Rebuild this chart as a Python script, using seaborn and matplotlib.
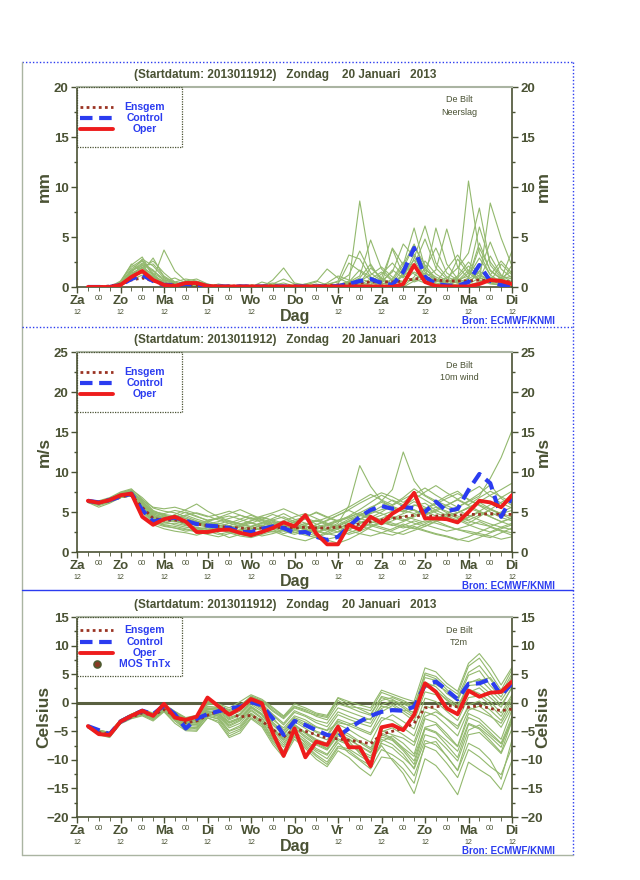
import pandas as pd
import seaborn as sns
import matplotlib.pyplot as plt
from matplotlib.lines import Line2D
from matplotlib.patches import Rectangle
from matplotlib.ticker import MultipleLocator
import matplotlib.transforms as mtransforms

# forecast hours (+6h .. +240h after 2013011912)
hours = list(range(6, 241, 6))
day_names = ['Za', 'Zo', 'Ma', 'Di', 'Wo', 'Do', 'Vr', 'Za', 'Zo', 'Ma', 'Di']
day_hours = list(range(0, 241, 24))
half_hours = list(range(12, 241, 24))

# ---------------- neerslag (mm) ----------------
rain_oper = [0, 0, 0, 0.2, 1.0, 1.6, 0.7, 0.2, 0.1, 0.4, 0.4, 0.1, 0.05, 0.05, 0.05, 0.05,
             0.05, 0.05, 0.05, 0.05, 0.05, 0.05, 0.05, 0.05, 0.05, 0.05, 0.05, 0.05, 0, 0.3,
             2.2, 0.5, 0.1, 0.05, 0.05, 0.05, 0.3, 0.7, 0.6, 0.3]
rain_control = [0, 0, 0, 0.2, 0.8, 1.2, 0.6, 0.2, 0.2, 0.3, 0.2, 0.1, 0.05, 0.05, 0.05, 0.05,
                0.05, 0.05, 0.05, 0.05, 0.05, 0.05, 0.05, 0.1, 0.3, 0.6, 0.8, 0.4, 0.2, 1.5,
                3.9, 1.0, 0.3, 0.15, 0.1, 0.5, 2.2, 0.6, 0.2, 0.2]
rain_ensgem = [0, 0, 0.1, 0.3, 0.7, 0.9, 0.6, 0.3, 0.2, 0.25, 0.2, 0.15, 0.1, 0.1, 0.1, 0.1,
               0.1, 0.1, 0.1, 0.1, 0.1, 0.1, 0.15, 0.2, 0.3, 0.4, 0.5, 0.5, 0.5, 0.6,
               0.8, 0.9, 0.7, 0.6, 0.6, 0.6, 0.7, 0.6, 0.6, 0.5]
rain_members = [
    [0, 0, 0, 0.3, 1.8, 2.6, 1.2, 0.4, 0.2, 0.1, 0.3, 0.2, 0, 0, 0.1, 0, 0, 0.2, 0.4, 0.1, 0, 0, 0.3, 0.5, 1.2, 3.6, 1.4, 0.6, 0.3, 1.9, 4.1, 2.2, 0.8, 0.4, 1.1, 2.5, 1.3, 0.6, 0.9, 0.4],
    [0, 0, 0, 0.5, 2.3, 1.5, 2.9, 1.0, 0.3, 0.5, 0.2, 0, 0, 0.2, 0, 0, 0.1, 0, 0, 0, 0.3, 0.6, 0.2, 0, 0.4, 8.6, 2.1, 0.8, 0.4, 0.6, 1.5, 0.9, 0.5, 1.8, 3.2, 1.6, 0.7, 0.3, 0.2, 0.5],
    [0, 0, 0, 0.2, 1.2, 2.0, 0.8, 3.7, 1.6, 0.6, 0.4, 0.1, 0, 0, 0, 0.2, 0.1, 0, 0, 0.1, 0.3, 0.1, 0, 0.2, 0.5, 1.1, 4.7, 1.8, 0.7, 0.3, 2.9, 6.1, 2.4, 1.0, 0.6, 10.6, 3.4, 1.2, 2.6, 1.4],
    [0, 0, 0, 0.4, 1.5, 2.8, 2.1, 0.9, 0.5, 0.8, 0.6, 0.3, 0.1, 0, 0, 0, 0.5, 0.2, 0, 0, 0, 0, 0, 0.1, 0.3, 0.2, 0.8, 1.5, 0.6, 2.2, 5.9, 1.9, 0.7, 0.3, 0.5, 1.4, 0.6, 8.4, 4.9, 2.1],
    [0, 0, 0, 0.1, 0.9, 1.7, 1.0, 0.5, 0.2, 0.1, 0, 0, 0.3, 0.1, 0, 0, 0, 0.7, 1.9, 0.4, 0.2, 0, 0, 0, 0.1, 0.3, 0.1, 0, 0.2, 1.3, 2.7, 0.9, 5.9, 2.3, 0.8, 0.4, 1.6, 0.7, 0.3, 0.2],
    [0, 0, 0, 0.6, 2.2, 3.0, 1.1, 0.2, 0.1, 0.6, 0.8, 0.3, 0, 0, 0, 0, 0.2, 0.4, 0.1, 0, 0, 0, 0.1, 0.2, 0.6, 0.4, 0.2, 0.9, 3.8, 1.2, 0.5, 0.9, 1.7, 5.8, 2.0, 0.9, 4.4, 1.6, 0.8, 3.6],
    [0, 0, 0, 0.3, 1.3, 1.9, 2.6, 1.4, 0.5, 0.2, 0.1, 0, 0, 0, 0, 0.1, 0, 0, 0, 0, 0, 0, 0.2, 0.6, 3.2, 2.8, 1.0, 0.4, 0.1, 0, 0.6, 1.4, 0.8, 0.3, 0.2, 0.6, 1.2, 0.5, 0.3, 0.1],
    [0, 0, 0, 0.2, 1.0, 1.4, 0.8, 0.3, 0.1, 0, 0.2, 0.1, 0, 0, 0, 0, 0, 0, 0, 0.1, 0.2, 0.5, 1.8, 0.9, 0.4, 0.9, 2.3, 0.6, 1.5, 4.3, 3.0, 1.1, 0.6, 0.9, 1.9, 3.4, 7.9, 2.2, 0.9, 1.6],
    [0, 0, 0, 0.4, 1.6, 2.4, 1.7, 0.6, 0.3, 0.1, 0, 0.1, 0, 0, 0.1, 0, 0, 0.1, 0, 0, 0, 0.3, 0.1, 0, 0, 0, 0.3, 0.8, 0.4, 0.1, 1.0, 2.6, 1.3, 0.6, 0.4, 0.2, 0.5, 1.0, 0.6, 0.3],
    [0, 0, 0, 0.2, 1.1, 2.2, 1.0, 0.6, 0.9, 0.4, 0.1, 0, 0, 0, 0, 0, 0, 0, 0, 0, 0, 0.1, 0, 0.3, 2.4, 1.6, 0.7, 0.3, 3.9, 2.2, 4.3, 1.7, 1.0, 0.5, 2.8, 1.3, 6.0, 2.5, 1.1, 0.8],
    [0, 0, 0, 0.3, 1.4, 1.9, 1.3, 0.4, 0.2, 0.3, 0.4, 0.1, 0, 0.1, 0, 0, 0.1, 0.3, 0.8, 0.3, 0, 0, 0, 0, 0.2, 0.6, 1.2, 2.0, 1.0, 0.5, 0.8, 0.4, 0.2, 0.7, 0.4, 0.3, 0.9, 0.5, 2.3, 1.2],
    [0, 0, 0, 0.5, 2.0, 2.7, 1.4, 0.7, 0.4, 0.2, 0, 0, 0, 0, 0, 0, 0, 0, 0, 0, 0, 0, 0, 0.1, 0.3, 0.1, 0.5, 0.2, 0.8, 2.5, 1.3, 0.6, 0.3, 0.1, 0.6, 1.7, 0.8, 3.1, 1.2, 0.5],
    [0, 0, 0, 0.1, 0.7, 1.2, 0.6, 0.2, 0.1, 0, 0, 0, 0, 0, 0, 0, 0, 0, 0.1, 0.2, 0.1, 0, 0, 0, 0.1, 0.4, 1.9, 0.9, 0.3, 1.1, 2.0, 0.8, 0.4, 0.2, 0.9, 2.1, 1.0, 0.4, 0.2, 0.6],
    [0, 0, 0, 0.4, 1.7, 2.1, 2.3, 1.1, 0.4, 0.2, 0.1, 0, 0, 0, 0.2, 0.1, 0, 0, 0, 0, 0, 0, 0.4, 1.1, 0.7, 0.3, 0.1, 0.4, 1.7, 0.9, 3.3, 1.5, 0.6, 0.3, 0.2, 0.8, 1.5, 4.5, 1.8, 0.9],
    [0, 0, 0, 0.2, 1.2, 1.6, 0.9, 0.4, 0.2, 0.1, 0, 0, 0, 0, 0, 0, 0, 0, 0, 0, 0, 0, 0, 0, 0.2, 0.8, 0.5, 1.3, 2.4, 1.1, 0.6, 1.8, 3.9, 1.4, 0.7, 1.1, 2.9, 1.2, 0.5, 2.2],
    [0, 0, 0, 0.3, 1.5, 2.3, 1.6, 0.8, 0.3, 0.2, 0.1, 0, 0, 0, 0, 0, 0.1, 0.2, 0.1, 0, 0, 0.2, 0.1, 0, 0.5, 1.7, 1.0, 0.4, 0.2, 1.4, 2.2, 4.8, 1.9, 0.8, 0.4, 0.9, 3.9, 1.7, 0.8, 1.1],
]

# ---------------- 10m wind (m/s) ----------------
wind_oper = [6.4, 6.15, 6.5, 7.1, 7.3, 4.4, 3.4, 4.1, 4.4, 3.8, 2.5, 2.5, 2.75, 2.8, 2.4, 2.1,
             2.5, 3.0, 3.7, 3.2, 4.6, 2.3, 0.96, 0.96, 3.4, 2.8, 4.4, 3.6, 4.8, 5.6,
             7.4, 4.2, 4.2, 4.1, 3.7, 5.0, 6.4, 6.2, 5.6, 7.1]
wind_control = [6.4, 6.2, 6.5, 6.9, 7.3, 5.25, 3.8, 4.1, 4.3, 3.9, 3.5, 3.3, 3.2, 3.0, 2.5, 2.5,
                2.9, 3.2, 3.0, 2.4, 2.5, 1.9, 1.5, 1.9, 3.2, 4.4, 5.25, 5.75, 5.4, 5.6,
                5.5, 5.0, 6.3, 5.1, 5.4, 7.75, 9.75, 8.6, 4.4, 6.9]
wind_ensgem = [6.4, 6.2, 6.4, 6.9, 7.1, 5.6, 4.2, 4.0, 4.0, 3.8, 3.5, 3.3, 3.2, 3.1, 3.0, 2.9,
               3.0, 3.0, 3.1, 3.0, 3.1, 3.0, 3.0, 3.1, 3.3, 3.5, 3.8, 4.0, 4.2, 4.4,
               4.6, 4.5, 4.5, 4.6, 4.6, 4.7, 4.7, 4.8, 4.7, 4.7]
wind_members = [
    [6.3, 6.0, 6.4, 7.0, 7.4, 5.9, 4.5, 4.3, 4.6, 4.2, 3.6, 3.4, 3.6, 3.3, 3.0, 2.7, 3.1, 3.4, 3.6, 3.0, 3.2, 2.6, 2.2, 2.5, 3.4, 4.0, 4.8, 5.3, 5.5, 5.0, 5.8, 6.1, 5.2, 4.6, 4.9, 5.6, 6.2, 5.4, 4.8, 5.2],
    [6.5, 6.3, 6.7, 7.3, 7.6, 6.4, 5.0, 4.8, 5.2, 4.9, 4.4, 4.0, 4.2, 3.8, 3.5, 3.9, 4.3, 4.0, 3.6, 3.2, 2.8, 2.4, 2.9, 3.6, 5.8, 10.8, 8.2, 6.4, 5.6, 5.0, 5.9, 5.4, 6.2, 7.0, 7.6, 6.5, 5.8, 5.0, 4.3, 3.9],
    [6.2, 5.6, 6.1, 6.8, 7.0, 5.2, 3.6, 3.2, 3.0, 2.6, 2.8, 3.1, 2.4, 1.8, 2.2, 2.9, 3.4, 2.8, 2.3, 2.7, 3.3, 3.9, 3.4, 2.8, 2.2, 2.6, 3.2, 3.8, 4.4, 4.1, 3.6, 3.2, 3.9, 4.5, 4.0, 3.4, 2.9, 2.5, 3.1, 3.6],
    [6.4, 6.2, 6.6, 7.4, 7.8, 6.8, 5.5, 5.1, 4.9, 4.4, 3.9, 3.5, 3.2, 3.6, 4.1, 4.6, 4.0, 3.5, 3.9, 4.4, 4.8, 4.2, 3.6, 3.2, 3.8, 4.6, 5.4, 6.4, 7.8, 12.5, 8.9, 7.1, 6.4, 5.8, 6.6, 7.4, 8.2, 7.0, 6.1, 5.5],
    [6.3, 6.1, 6.5, 7.1, 7.3, 5.6, 4.0, 3.7, 3.9, 3.5, 3.0, 2.6, 2.9, 2.5, 2.2, 1.9, 2.4, 2.8, 3.1, 3.5, 2.9, 2.1, 1.5, 1.1, 1.6, 2.3, 3.1, 3.7, 4.2, 4.8, 5.3, 4.6, 3.9, 3.3, 2.8, 2.4, 2.1, 1.8, 2.4, 3.0],
    [6.4, 6.3, 6.6, 7.2, 7.5, 6.1, 4.7, 4.4, 4.3, 4.0, 3.7, 3.3, 3.0, 2.8, 3.2, 3.6, 4.1, 4.7, 4.2, 3.6, 3.0, 3.4, 3.9, 4.6, 5.3, 6.1, 6.8, 7.4, 6.9, 6.2, 7.2, 8.0, 7.1, 6.3, 5.6, 6.4, 7.3, 8.4, 6.7, 5.8],
    [6.2, 5.9, 6.3, 6.9, 7.2, 5.8, 4.3, 3.8, 3.4, 3.1, 2.9, 2.6, 2.2, 2.5, 2.8, 2.4, 2.0, 2.3, 2.7, 3.1, 3.6, 3.2, 2.8, 3.3, 3.9, 4.5, 5.2, 4.8, 4.3, 3.9, 4.6, 5.1, 4.5, 4.0, 3.6, 4.3, 5.0, 4.4, 3.8, 4.2],
    [6.5, 6.4, 6.8, 7.5, 7.9, 6.6, 5.2, 4.6, 4.0, 3.6, 3.3, 3.8, 4.2, 4.5, 4.1, 3.6, 3.3, 3.0, 2.6, 2.2, 2.6, 3.1, 3.5, 4.0, 4.4, 4.9, 4.5, 4.0, 3.6, 3.2, 2.9, 3.5, 4.1, 4.8, 5.6, 6.3, 7.0, 9.2, 11.8, 15.2],
    [6.3, 6.2, 6.5, 7.0, 7.3, 5.4, 3.9, 3.5, 3.6, 3.3, 3.1, 2.9, 2.7, 2.9, 3.2, 3.0, 2.7, 2.5, 2.8, 3.2, 2.8, 2.5, 2.9, 3.4, 4.1, 4.7, 4.3, 3.8, 3.4, 3.0, 3.4, 3.9, 3.6, 3.2, 2.8, 2.6, 2.3, 2.0, 1.6, 1.9],
    [6.4, 6.1, 6.6, 7.2, 7.4, 6.0, 4.6, 4.1, 3.8, 3.6, 3.4, 3.1, 3.5, 3.9, 3.5, 3.1, 3.6, 4.0, 4.4, 3.8, 3.3, 2.7, 2.3, 2.0, 2.7, 3.5, 4.3, 5.0, 5.8, 6.6, 7.3, 6.5, 5.7, 4.9, 4.2, 3.6, 4.4, 5.3, 6.2, 7.0],
    [6.3, 6.2, 6.4, 6.9, 7.1, 5.7, 4.4, 4.0, 4.2, 4.6, 4.1, 3.7, 3.3, 3.0, 2.6, 2.9, 3.3, 3.8, 3.4, 2.9, 3.4, 4.0, 3.5, 3.0, 3.3, 3.7, 4.1, 4.6, 5.1, 5.6, 5.2, 4.7, 5.3, 5.9, 6.5, 5.8, 5.1, 4.5, 5.0, 5.6],
    [6.2, 6.0, 6.3, 7.0, 7.3, 5.5, 4.1, 3.9, 4.4, 5.0, 4.5, 3.9, 3.4, 3.1, 3.4, 3.7, 3.2, 2.9, 3.3, 3.7, 4.1, 3.5, 2.9, 2.5, 2.9, 3.3, 2.8, 2.4, 2.1, 2.6, 3.2, 2.7, 2.3, 2.0, 1.6, 1.3, 1.8, 2.4, 2.9, 3.4],
    [6.4, 6.3, 6.7, 7.3, 7.5, 6.2, 4.9, 4.5, 4.1, 3.8, 3.5, 3.2, 2.9, 3.3, 3.8, 4.3, 3.9, 3.4, 3.0, 2.7, 2.4, 2.8, 3.3, 3.8, 4.5, 5.3, 6.2, 7.1, 6.4, 5.7, 6.6, 7.5, 8.3, 7.4, 6.6, 5.9, 6.8, 7.6, 6.9, 6.2],
    [6.3, 6.1, 6.4, 7.1, 7.4, 6.1, 4.8, 4.2, 3.9, 3.4, 3.0, 2.8, 3.1, 2.7, 2.3, 2.6, 3.0, 3.3, 2.9, 2.5, 2.1, 1.8, 2.3, 2.9, 3.6, 4.2, 3.8, 3.4, 3.9, 4.5, 4.1, 3.7, 4.2, 4.7, 4.3, 3.9, 3.5, 3.2, 3.7, 4.3],
    [6.5, 6.2, 6.6, 7.2, 7.6, 6.3, 5.1, 4.7, 4.5, 4.2, 3.8, 3.5, 3.8, 4.2, 4.6, 4.2, 3.7, 3.3, 3.6, 4.0, 4.4, 4.9, 4.3, 3.8, 4.3, 4.9, 5.6, 6.2, 5.7, 5.2, 4.8, 5.4, 6.0, 6.7, 7.3, 6.6, 5.9, 5.3, 4.8, 4.4],
    [6.3, 6.0, 6.2, 6.8, 7.1, 5.3, 3.8, 3.4, 3.2, 2.9, 2.6, 2.3, 2.6, 2.9, 2.5, 2.2, 2.5, 2.9, 3.3, 2.8, 2.4, 2.0, 1.6, 1.9, 2.4, 2.9, 3.5, 3.1, 2.7, 3.3, 3.9, 3.4, 3.0, 2.6, 2.9, 3.3, 3.8, 3.2, 2.7, 2.4],
    [6.4, 6.2, 6.5, 7.1, 7.5, 6.5, 5.6, 5.4, 5.6, 5.2, 4.8, 4.4, 4.7, 5.1, 4.6, 4.1, 4.5, 4.9, 5.4, 4.8, 4.2, 3.8, 4.3, 4.9, 5.6, 6.4, 7.2, 6.5, 5.9, 6.8, 7.9, 7.0, 6.2, 5.5, 4.9, 5.5, 6.3, 7.1, 7.8, 8.6],
    [6.3, 6.1, 6.3, 6.9, 7.2, 5.0, 3.4, 2.9, 2.6, 2.4, 2.1, 2.5, 2.9, 2.4, 2.0, 1.8, 2.2, 2.6, 2.1, 1.7, 1.4, 1.9, 2.5, 3.1, 2.7, 2.3, 2.0, 2.4, 2.9, 3.5, 3.0, 2.6, 2.2, 1.9, 1.5, 1.9, 2.5, 3.1, 2.6, 2.1],
    [6.4, 6.2, 6.6, 7.3, 7.6, 6.0, 4.4, 4.0, 4.7, 5.3, 6.0, 5.1, 4.4, 3.9, 3.5, 3.2, 3.6, 4.2, 4.8, 4.1, 3.6, 3.1, 2.6, 3.0, 3.5, 4.1, 4.9, 5.7, 6.5, 5.9, 5.2, 4.6, 5.1, 5.8, 5.2, 4.6, 4.0, 3.5, 3.1, 2.8],
    [6.2, 5.8, 6.2, 6.8, 7.0, 5.4, 3.9, 3.3, 3.0, 2.8, 2.5, 2.2, 1.9, 2.3, 2.7, 3.2, 3.7, 3.2, 2.8, 2.4, 2.9, 3.4, 4.0, 4.6, 5.2, 4.6, 4.1, 3.7, 3.3, 3.8, 4.4, 5.0, 5.6, 5.1, 4.5, 4.0, 4.6, 5.3, 4.7, 4.1],
    [6.5, 6.3, 6.7, 7.4, 7.7, 6.3, 4.9, 4.6, 4.3, 4.6, 4.9, 4.5, 4.0, 3.6, 3.3, 3.9, 4.4, 3.9, 3.3, 2.9, 2.5, 2.9, 3.4, 3.9, 4.3, 3.8, 3.3, 2.9, 2.5, 2.2, 2.7, 3.2, 3.8, 4.3, 4.9, 5.5, 5.0, 4.4, 3.8, 3.3],
    [6.3, 6.1, 6.4, 7.0, 7.2, 5.7, 4.2, 4.0, 4.3, 3.9, 3.6, 3.9, 4.3, 4.8, 5.3, 4.7, 4.1, 3.7, 3.3, 3.8, 4.3, 5.0, 4.4, 3.9, 3.4, 3.0, 3.6, 4.2, 4.8, 5.5, 6.3, 5.6, 4.9, 4.3, 3.8, 4.4, 5.1, 5.9, 6.8, 7.6],
]

# ---------------- T2m (Celsius) ----------------
temp_oper = [-4.1, -5.5, -5.65, -3.3, -2.3, -1.4, -2.3, -0.2, -2.6, -3.0, -2.45, 0.9, -0.6, -2.1, -1.0, 0.65,
             -0.1, -5.3, -9.3, -4.5, -9.55, -6.8, -7.4, -4.2, -7.8, -7.8, -11.1, -4.3, -3.9, -4.8,
             -2.1, 3.4, 1.9, -1.0, -2.0, 2.1, 1.05, 1.75, 1.9, 3.7]
temp_control = [-4.1, -4.8, -5.5, -3.3, -2.3, -1.4, -2.0, -0.5, -2.0, -4.5, -2.8, -2.0, -1.5, -1.0, -0.7, 0.1,
                -0.45, -2.75, -5.65, -3.2, -3.9, -4.8, -5.65, -5.95, -4.5, -3.3, -2.3, -1.6, -1.3, -1.4,
                -0.7, 3.1, 3.7, 2.2, 0.6, 3.3, 3.4, 4.1, 1.3, 3.4]
temp_ensgem = [-4.1, -5.2, -5.5, -3.4, -2.5, -1.8, -2.2, -1.2, -2.3, -3.5, -3.2, -2.2, -1.5, -1.8, -2.5, -2.2,
               -3.2, -4.7, -6.0, -4.6, -5.0, -5.6, -6.2, -6.3, -6.6, -6.8, -7.2, -5.5, -5.0, -4.5,
               -3.6, -0.9, -0.7, -0.5, -0.7, -0.8, -0.5, -1.0, -1.4, -1.1]
temp_members = [
    [-4.0, -4.9, -5.4, -3.2, -2.2, -1.5, -2.1, -0.6, -1.9, -3.8, -2.9, -1.2, -1.0, -1.8, -0.9, 0.4, -0.5, -2.6, -4.8, -2.6, -3.4, -4.3, -4.9, -3.5, -3.9, -3.2, -2.8, -0.6, -1.0, -1.3, -1.6, 2.6, 3.2, 2.0, 0.8, 3.6, 3.9, 4.4, 1.8, 3.9],
    [-4.3, -5.3, -5.9, -3.6, -2.6, -2.0, -2.8, -1.3, -2.9, -4.2, -4.6, -2.1, -2.6, -4.9, -4.0, -1.8, -3.2, -6.1, -8.4, -5.2, -7.1, -8.6, -9.8, -7.0, -8.8, -10.1, -11.6, -8.2, -9.1, -10.4, -12.8, -7.6, -8.4, -10.6, -13.1, -8.2, -9.5, -11.2, -12.6, -7.8],
    [-4.1, -5.1, -5.5, -3.3, -2.3, -1.6, -2.4, -0.9, -2.2, -3.4, -3.6, -1.6, -1.8, -3.3, -2.6, -0.6, -1.9, -4.4, -6.2, -3.8, -5.2, -6.4, -7.1, -4.6, -5.5, -6.8, -7.9, -4.9, -5.6, -6.2, -7.5, -2.4, -1.6, -2.8, -4.1, -0.8, -1.5, -2.4, -3.6, -0.2],
    [-3.9, -4.8, -5.2, -3.0, -2.0, -1.2, -1.8, -0.2, -1.5, -2.6, -2.2, 0.3, -0.5, -1.2, -0.4, 1.0, 0.2, -1.5, -2.8, -0.9, -1.6, -2.2, -2.6, 0.4, -0.7, -0.9, -1.4, 1.8, 1.1, 0.4, -0.6, 5.2, 4.6, 2.8, 1.5, 6.4, 7.8, 5.1, 2.2, 5.8],
    [-4.4, -5.6, -6.1, -3.7, -2.8, -2.3, -3.2, -1.6, -3.6, -4.9, -5.0, -2.6, -3.5, -6.1, -5.3, -2.8, -4.2, -7.3, -9.6, -6.4, -8.0, -9.9, -11.2, -8.4, -9.6, -11.4, -12.8, -9.5, -9.8, -11.6, -14.1, -7.2, -6.8, -9.4, -11.8, -5.6, -5.2, -7.0, -8.9, -4.6],
    [-4.0, -5.0, -5.3, -3.1, -2.1, -1.4, -2.0, -0.4, -1.7, -3.0, -2.6, -0.3, -0.2, -0.9, 0.2, 1.4, 0.6, -0.8, -2.3, -0.2, -0.9, -1.8, -2.2, 0.8, -0.2, -1.1, -2.0, 1.1, 0.6, -0.6, -1.9, 3.6, 2.8, 0.9, -0.4, 2.4, 1.6, 0.2, -1.8, 1.4],
    [-4.2, -5.2, -5.7, -3.5, -2.4, -1.8, -2.6, -1.0, -2.5, -3.9, -3.8, -1.9, -2.3, -4.1, -3.2, -1.2, -2.6, -5.3, -7.4, -4.5, -6.1, -7.4, -8.3, -5.8, -6.5, -7.6, -8.6, -5.3, -6.2, -7.9, -9.4, -4.4, -5.1, -6.7, -8.5, -3.6, -4.4, -6.0, -7.8, -2.7],
    [-4.3, -5.4, -5.8, -3.5, -2.5, -1.9, -2.7, -1.1, -2.6, -4.0, -4.1, -2.0, -2.1, -3.9, -3.0, -0.9, -2.2, -4.6, -6.6, -4.1, -5.4, -6.9, -8.0, -5.3, -6.7, -8.9, -10.2, -7.5, -10.1, -12.4, -15.9, -9.8, -11.0, -13.3, -16.1, -10.4, -11.7, -12.9, -15.2, -10.1],
    [-4.1, -5.0, -5.4, -3.2, -2.2, -1.5, -2.2, -0.7, -2.0, -3.2, -3.0, -1.0, -1.2, -2.6, -1.9, 0.2, -1.0, -3.4, -5.1, -2.8, -3.8, -5.0, -5.6, -2.9, -3.6, -4.5, -5.3, -1.6, -0.5, -1.8, -3.2, 1.9, 1.4, -0.6, -2.3, 1.8, 2.6, 0.9, -0.8, 2.8],
    [-4.2, -5.3, -5.8, -3.4, -2.5, -1.9, -2.7, -1.2, -2.7, -4.4, -4.3, -2.3, -2.9, -5.4, -4.6, -2.2, -3.7, -6.6, -8.8, -5.9, -7.4, -9.1, -10.4, -7.6, -8.1, -9.3, -10.5, -7.1, -7.9, -9.6, -11.4, -5.6, -6.2, -8.1, -10.2, -4.8, -3.9, -5.6, -7.2, -3.4],
    [-4.0, -4.8, -5.3, -3.0, -2.1, -1.3, -1.9, -0.5, -1.6, -2.8, -2.4, -0.6, -0.9, -2.0, -1.1, 0.8, -0.3, -2.2, -3.9, -1.7, -2.4, -3.5, -4.2, -1.6, -2.4, -3.1, -3.6, -0.4, 0.4, -0.2, -1.1, 4.4, 3.9, 1.6, 0.3, 4.8, 5.6, 3.0, 1.0, 4.6],
    [-4.3, -5.5, -6.0, -3.6, -2.7, -2.2, -3.0, -1.5, -3.2, -4.7, -4.8, -2.7, -3.2, -5.8, -4.9, -2.6, -3.9, -6.9, -9.2, -6.0, -7.7, -9.4, -10.8, -7.9, -8.4, -9.9, -11.0, -6.8, -5.8, -7.1, -9.0, -2.8, -3.5, -5.4, -7.6, -1.9, -2.8, -4.6, -6.4, -1.2],
    [-4.1, -5.1, -5.6, -3.3, -2.3, -1.7, -2.3, -0.8, -2.3, -3.6, -3.3, -1.4, -1.6, -3.0, -2.2, -0.3, -1.5, -3.9, -5.7, -3.3, -4.5, -5.8, -6.5, -3.8, -4.7, -5.9, -6.9, -3.2, -2.1, -3.3, -4.6, 0.8, 0.2, -1.5, -3.1, 0.9, 1.2, -0.4, -2.4, 1.0],
    [-4.0, -4.9, -5.3, -3.1, -2.0, -1.3, -2.0, -0.3, -1.6, -2.9, -2.5, 0.1, -0.4, -1.6, -0.8, 1.2, 0.4, -1.0, -2.4, -0.6, -1.2, -2.0, -2.4, 0.9, 0.2, -0.4, -0.9, 2.2, 1.5, 0.8, 0.2, 6.1, 5.4, 3.4, 2.0, 6.9, 8.6, 6.2, 3.1, 6.2],
    [-4.2, -5.2, -5.6, -3.4, -2.4, -1.7, -2.5, -1.0, -2.4, -3.7, -3.5, -1.6, -2.0, -3.6, -2.8, -0.8, -2.1, -4.8, -7.0, -4.4, -5.8, -7.2, -8.1, -5.5, -6.3, -7.6, -8.8, -5.6, -6.4, -8.1, -10.2, -4.3, -3.8, -5.9, -7.7, -2.6, -3.4, -5.2, -7.1, -2.4],
    [-4.1, -5.0, -5.4, -3.2, -2.2, -1.6, -2.2, -0.6, -1.9, -3.1, -2.8, -0.9, -1.1, -2.3, -1.5, 0.5, -0.8, -3.0, -4.4, -2.3, -3.0, -4.2, -4.8, -2.1, -2.9, -3.6, -4.2, -1.0, -0.2, -1.4, -2.6, 3.0, 2.2, 0.4, -1.0, 3.0, 3.2, 1.6, -0.4, 2.6],
    [-4.2, -5.2, -5.6, -3.4, -2.3, -1.7, -2.4, -0.8, -2.1, -3.3, -3.1, -1.1, -1.4, -2.8, -2.0, 0.0, -1.2, -3.6, -5.5, -3.0, -4.1, -5.2, -5.9, -3.2, -4.0, -4.8, -5.6, -2.6, -3.1, -4.4, -5.8, -0.6, -1.2, -2.9, -4.6, -0.4, 0.3, -1.3, -3.1, 0.5],
    [-4.3, -5.4, -5.9, -3.6, -2.6, -2.1, -2.9, -1.4, -3.0, -4.5, -4.4, -2.4, -2.8, -5.0, -4.3, -2.0, -3.4, -6.3, -8.6, -5.6, -6.8, -8.3, -9.2, -6.3, -7.2, -8.6, -9.7, -6.0, -6.6, -8.4, -10.8, -4.6, -5.3, -7.4, -9.6, -3.8, -4.6, -6.6, -8.7, -3.1],
    [-4.0, -4.9, -5.3, -3.1, -2.1, -1.4, -2.1, -0.5, -1.8, -3.0, -2.7, -0.7, -0.8, -2.0, -1.2, 0.7, -0.2, -2.0, -3.6, -1.4, -2.2, -3.1, -3.6, -0.9, -1.6, -2.3, -3.0, 0.4, 0.9, 0.1, -0.9, 4.9, 4.2, 2.3, 0.9, 5.3, 6.5, 4.1, 1.6, 5.1],
    [-4.1, -5.1, -5.5, -3.3, -2.3, -1.6, -2.3, -0.8, -2.2, -3.5, -3.4, -1.5, -1.9, -3.5, -2.7, -0.7, -2.0, -4.5, -6.4, -3.9, -5.3, -6.6, -7.5, -5.0, -5.9, -7.0, -8.2, -5.1, -4.4, -5.6, -6.9, -1.6, -2.3, -4.0, -5.8, -1.3, -0.6, -2.1, -4.3, -0.8],
    [-4.2, -5.3, -5.7, -3.5, -2.5, -1.8, -2.6, -1.1, -2.5, -3.8, -3.9, -1.8, -2.4, -4.4, -3.6, -1.4, -2.8, -5.7, -7.8, -5.0, -6.5, -8.0, -9.0, -6.6, -7.4, -8.4, -9.3, -6.4, -7.3, -9.0, -11.6, -6.6, -7.4, -9.3, -11.9, -7.1, -8.1, -10.0, -13.4, -6.5],
    [-4.0, -4.8, -5.2, -3.0, -2.0, -1.2, -1.9, -0.3, -1.7, -2.7, -2.3, -0.1, -0.3, -1.4, -0.6, 1.1, 0.3, -1.3, -2.6, -0.7, -1.4, -2.4, -3.0, -0.2, -0.8, -1.6, -2.2, 0.9, 0.2, -0.9, -2.3, 2.9, 2.1, 0.6, -0.8, 3.4, 4.2, 2.3, 0.4, 3.3],
]

TITLE = '(Startdatum: 2013011912)   Zondag    20 Januari   2013'

sns.set_style('ticks')
plt.rcParams['font.family'] = ['Liberation Sans', 'DejaVu Sans']

INK = '#4a5234'
GREEN = '#93b96e'
BLUE = '#2b3cf0'
RED = '#ee1c1c'
ENS = '#9a3322'
W, H = 640, 880

fig = plt.figure(figsize=(6.4, 8.8), dpi=100)


def fx(px):
    return px / W


def fy(py):
    return 1 - py / H


def members_frame(members):
    rows = []
    for k, m in enumerate(members):
        for h, v in zip(hours, m):
            rows.append((k, h, v))
    return pd.DataFrame(rows, columns=['member', 'hour', 'value'])


def panel(top, ylim, ystep, ylabel, station, members, ensgem, control, oper,
          legend_rows, mos=False, zero=False):
    ax = fig.add_axes([fx(77), fy(top + 200), fx(435), 200 / H])
    df = members_frame(members)
    sns.lineplot(data=df, x='hour', y='value', units='member', estimator=None,
                 color=GREEN, lw=0.8, ax=ax, legend=False)
    if zero:
        ax.axhline(0, color='#596040', lw=2.2, zorder=1.8)
    ax.plot(hours, ensgem, color=ENS, lw=2.0, ls=(0, (1, 1.2)), zorder=3)
    ax.plot(hours, control, color=BLUE, lw=3.0, ls=(0, (3, 1.6)), zorder=4)
    ax.plot(hours, oper, color=RED, lw=2.8, zorder=5)

    ax.set_xlim(0, 240)
    ax.set_ylim(*ylim)
    ax.set_xlabel('')
    ax.set_ylabel('')
    ax.set_xticks(day_hours)
    ax.set_xticklabels(day_names)
    ax.xaxis.set_minor_locator(MultipleLocator(6))
    ax.yaxis.set_major_locator(MultipleLocator(ystep))
    ax.yaxis.set_minor_locator(MultipleLocator(ystep / 2))
    ax.tick_params(axis='x', which='major', length=4, pad=1.5, labelsize=9.5,
                   colors=INK, width=1)
    ax.tick_params(axis='x', which='minor', length=3, color=INK)
    ax.tick_params(axis='y', which='both', left=True, right=True, labelleft=True,
                   labelright=True, labelsize=9.5, colors=INK, width=1)
    ax.tick_params(axis='y', which='major', length=4, pad=2)
    ax.tick_params(axis='y', which='minor', length=2.5)
    for lab in ax.get_xticklabels() + ax.get_yticklabels():
        lab.set_fontweight('bold')
    for s in ['left', 'bottom', 'right']:
        ax.spines[s].set_color(INK)
        ax.spines[s].set_linewidth(1.2)
    ax.spines['right'].set_visible(True)
    ax.spines['top'].set_visible(True)
    ax.spines['top'].set_color('#aab4a2')
    ax.spines['top'].set_linewidth(1.5)

    tr = mtransforms.blended_transform_factory(ax.transData, ax.transAxes)
    for h in half_hours:
        ax.text(h, -0.055, '00', transform=tr, ha='center', va='center',
                fontsize=5.5, color=INK)
    # the '12' under Do is hidden behind the 'Dag' label in the original
    for h in day_hours:
        if h == 120:
            continue
        ax.text(h, -0.125, '12', transform=tr, ha='center', va='center',
                fontsize=5, color=INK)

    # legend box
    lh = 0.3 if not mos else 0.295
    ax.add_patch(Rectangle((0, 1 - lh), 0.241, lh, transform=ax.transAxes,
                           fill=False, ec=INK, lw=0.9, ls=(0, (1, 1)), zorder=6))
    styles = [(ENS, 2.0, (0, (1, 1.2))), (BLUE, 3.0, (0, (3, 1.6))), (RED, 2.8, '-')]
    names = ['Ensgem', 'Control', 'Oper']
    for (c, lw, ls), name, yy in zip(styles, names, legend_rows):
        ax.plot([0.008, 0.083], [yy, yy], transform=ax.transAxes, color=c, lw=lw,
                ls=ls, clip_on=False, zorder=7)
        ax.text(0.156, yy, name, transform=ax.transAxes, ha='center', va='center',
                fontsize=7.5, fontweight='bold', color=BLUE, zorder=7)
    if mos:
        yy = legend_rows[3]
        ax.plot([0.046], [yy], transform=ax.transAxes, marker='o', ms=5,
                mfc='#8a3a24', mec='#4e5a30', mew=1.2, ls='none', zorder=7)
        ax.text(0.156, yy, 'MOS TnTx', transform=ax.transAxes, ha='center',
                va='center', fontsize=7.5, fontweight='bold', color=BLUE, zorder=7)

    ax.text(0.878, 0.935, 'De Bilt', transform=ax.transAxes, ha='center',
            va='center', fontsize=6.5, color=INK)
    ax.text(0.878, 0.872, station, transform=ax.transAxes, ha='center',
            va='center', fontsize=6.5, color=INK)

    fig.text(fx(285), fy(top - 12), TITLE, ha='center', va='center',
             fontsize=8.5, fontweight='bold', color=INK)
    fig.text(fx(44), fy(top + 100), ylabel, rotation=90, ha='center',
             va='center', fontsize=12.5, fontweight='bold', color=INK)
    fig.text(fx(543), fy(top + 100), ylabel, rotation=90, ha='center',
             va='center', fontsize=12.5, fontweight='bold', color=INK)
    fig.text(fx(295), fy(top + 234), 'Dag', ha='center', va='baseline',
             fontsize=11.5, fontweight='bold', color=INK)
    fig.text(fx(508), fy(top + 234), 'Bron: ECMWF/KNMI', ha='center',
             va='center', fontsize=7, fontweight='bold', color=BLUE)
    return ax


panel(87, (0, 20), 5, 'mm', 'Neerslag', rain_members, rain_ensgem,
      rain_control, rain_oper, [0.9, 0.845, 0.79])
panel(352, (0, 25), 5, 'm/s', '10m wind', wind_members, wind_ensgem,
      wind_control, wind_oper, [0.9, 0.845, 0.79])
panel(617, (-20, 15), 5, 'Celsius', 'T2m', temp_members, temp_ensgem,
      temp_control, temp_oper, [0.935, 0.875, 0.82, 0.765], mos=True, zero=True)

# outer panel frames
frame = [
    ((22, 573), (62, 62), BLUE, (0, (1, 1.5))),
    ((573, 573), (62, 855), BLUE, (0, (1, 1.5))),
    ((22, 22), (62, 855), '#aab4a2', '-'),
    ((22, 573), (327, 327), BLUE, (0, (1, 1.5))),
    ((22, 573), (590, 590), BLUE, '-'),
    ((22, 573), (855, 855), '#aab4a2', '-'),
]
for xs, ys, c, ls in frame:
    fig.add_artist(Line2D([fx(xs[0]), fx(xs[1])], [fy(ys[0]), fy(ys[1])],
                          transform=fig.transFigure, color=c, lw=1.0, ls=ls))

fig.savefig('out.png', dpi=100)
